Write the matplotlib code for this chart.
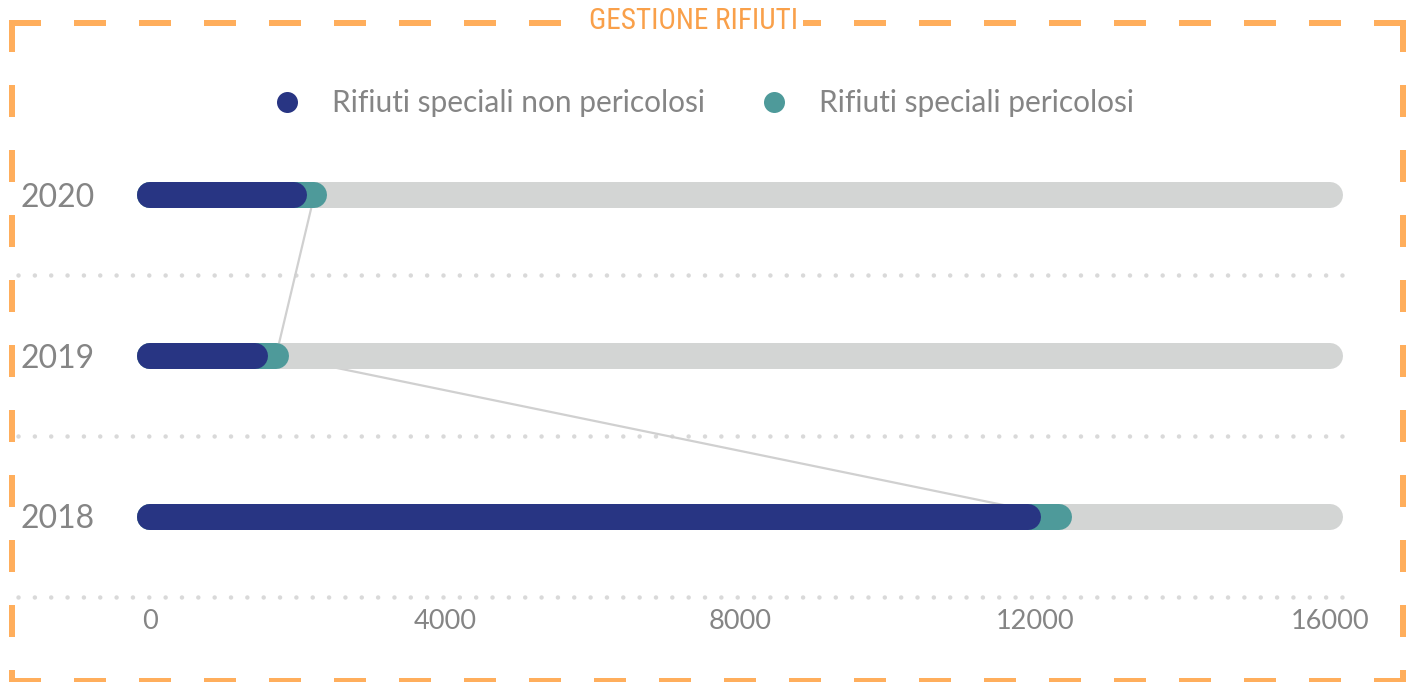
import matplotlib
matplotlib.use("Agg")
import matplotlib.pyplot as plt
from matplotlib.lines import Line2D

# ---- data ----
years = ["2020", "2019", "2018"]
non_pericolosi = [1950, 1420, 11900]
pericolosi = [280, 290, 430]
track_max = 16000
x_ticks = [0, 4000, 8000, 12000, 16000]
legend_labels = ["Rifiuti speciali non pericolosi", "Rifiuti speciali pericolosi"]
title = "GESTIONE RIFIUTI"

NAVY = "#283583"
TEAL = "#4E9A9A"
TRACK = "#D3D5D4"
ORANGE = "#FFAE5C"
ORANGE_TXT = "#F9A04A"
GREY_TXT = "#858585"
DOT = "#D9D9D9"

FONT = ["Lato", "DejaVu Sans"]
W, H, DPI = 1416, 682, 100
fig = plt.figure(figsize=(W / DPI, H / DPI), dpi=DPI)
fig.patch.set_facecolor("white")

def px2pt(p):
    return p * 72.0 / DPI

# axes layout (pixels)
ax_left, ax_right, ax_top, ax_bottom = 18, 1353, 114, 597
ax = fig.add_axes([ax_left / W, 1 - ax_bottom / H, (ax_right - ax_left) / W, (ax_bottom - ax_top) / H])
x0_px, x16_px = 150, 1330
scale = (x16_px - x0_px) / track_max
ax.set_xlim((ax_left - x0_px) / scale, (ax_right - x0_px) / scale)
ax.set_ylim(len(years) - 0.5, -0.5)
for s in ax.spines.values():
    s.set_visible(False)
ax.set_facecolor("none")

ypos = list(range(len(years)))
bar_lw = px2pt(26)
totals = [a + b for a, b in zip(non_pericolosi, pericolosi)]

# connector lines between totals
ax.plot(totals, ypos, color="#D0D0D0", lw=1.6, zorder=1)

for y, n, t in zip(ypos, non_pericolosi, totals):
    ax.plot([0, track_max], [y, y], color=TRACK, lw=bar_lw, solid_capstyle="round", zorder=2)
    ax.plot([0, t], [y, y], color=TEAL, lw=bar_lw, solid_capstyle="round", zorder=3)
    ax.plot([0, n], [y, y], color=NAVY, lw=bar_lw, solid_capstyle="round", zorder=4)

# dotted separators
dot_lw = px2pt(4.5)
for b in [y + 0.5 for y in ypos]:
    ax.axhline(b, xmin=0, xmax=1, color=DOT, lw=dot_lw, linestyle=(0, (0.01, 16.3 / 4.5)),
               dash_capstyle="round", zorder=0, clip_on=False)

ax.set_yticks(ypos)
ax.set_yticklabels(years, fontsize=23, color=GREY_TXT, family=FONT)
ax.tick_params(axis="y", length=0, pad=-px2pt(77))

ax.set_xticks(x_ticks)
ax.set_xticklabels([str(v) for v in x_ticks], fontsize=19.5, color=GREY_TXT, family=FONT)
ax.tick_params(axis="x", length=0, pad=px2pt(12))

# legend
handles = [Line2D([], [], marker="o", ls="none", markersize=px2pt(21), color=c, markeredgewidth=0)
           for c in (NAVY, TEAL)]
leg = fig.legend(handles, legend_labels, loc="center", bbox_to_anchor=(703 / W, 1 - 103 / H),
                 ncol=2, frameon=False, handlelength=1.0, handletextpad=1.0, columnspacing=1.8,
                 prop={"family": FONT, "size": 21.5})
for t in leg.get_texts():
    t.set_color(GREY_TXT)

# dashed orange frame
L, R, T, B = 12, 1403, 23, 681
frame_lw_px = 6
dash = 32 / frame_lw_px
gap = 33 / frame_lw_px
def side(xs, ys):
    ln = Line2D([x / W for x in xs], [1 - y / H for y in ys], transform=fig.transFigure,
                color=ORANGE, lw=px2pt(frame_lw_px), linestyle=(0, (dash, gap)),
                dash_capstyle="butt")
    fig.add_artist(ln)
side([L - 3, R + 3], [T, T])
side([L, L], [T - 3, B + 3])
side([R, R], [T - 3, B + 3])
side([L - 3, R + 3], [B, B])

fig.text(694 / W, 1 - 21 / H, title, ha="center", va="center", fontsize=21, color=ORANGE_TXT,
         family=["Liberation Sans Narrow", "Roboto Condensed", "DejaVu Sans"],
         bbox=dict(facecolor="white", edgecolor="none", pad=3))

fig.savefig("out.png", dpi=DPI, facecolor="white")
